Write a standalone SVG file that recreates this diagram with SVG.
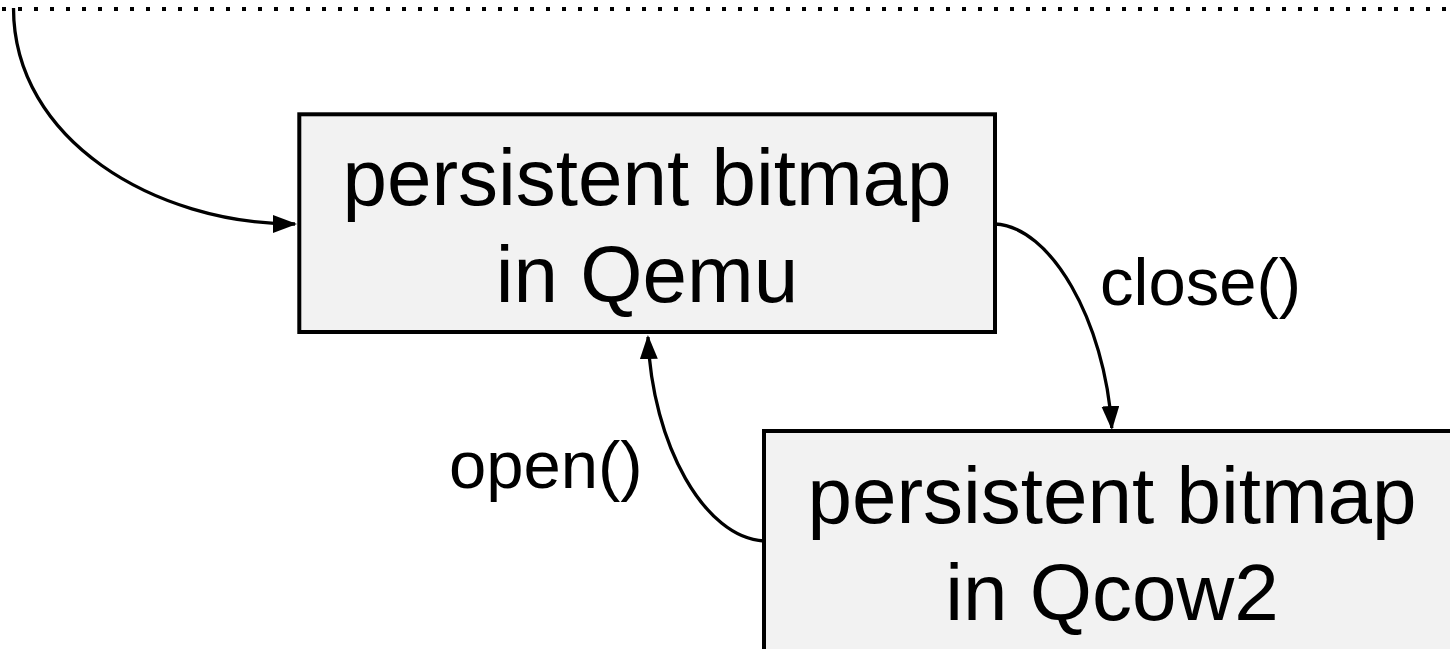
<svg xmlns="http://www.w3.org/2000/svg" width="1450" height="649" viewBox="0 0 1450 649">
  <style>
    .box { fill: #f2f2f2; stroke: #000; stroke-width: 4; }
    .btxt { font-family: "Liberation Sans", Arial, sans-serif; font-size: 80px; fill: #000; text-anchor: middle; }
    .lbl { font-family: "Liberation Sans", Arial, sans-serif; font-size: 67px; fill: #000; }
    .conn { fill: none; stroke: #000; stroke-width: 3.3; }
  </style>
  <defs>
    <marker id="arrow" markerUnits="userSpaceOnUse" markerWidth="24" markerHeight="18" refX="22" refY="9" orient="auto">
      <path d="M0,0 L24,9 L0,18 z" fill="#000"/>
    </marker>
  </defs>
  <rect width="1450" height="649" fill="#fff"/>
  <line x1="2" y1="9" x2="1450" y2="9" stroke="#000" stroke-width="4" stroke-dasharray="4 12"/>
  <g id="node-qemu">
    <rect class="box" x="299.3" y="114.3" width="695.7" height="217.7"/>
    <text class="btxt" x="647" y="205">persistent bitmap</text>
    <text class="btxt" x="647" y="302">in Qemu</text>
  </g>
  <g id="node-qcow2">
    <rect class="box" x="764" y="431" width="696" height="230"/>
    <text class="btxt" x="1112" y="523">persistent bitmap</text>
    <text class="btxt" x="1112" y="620">in Qcow2</text>
  </g>
  <g id="connectors">
    <path class="conn" d="M13.5,8 C13.5,140 155,224 295,224" marker-end="url(#arrow)"/>
    <path class="conn" d="M995,224 C1050,226 1105,320 1111.8,428" marker-end="url(#arrow)"/>
    <path class="conn" d="M764,541 C705,538 652,445 648,337" marker-end="url(#arrow)"/>
    <text class="lbl" x="1100" y="305">close()</text>
    <text class="lbl" x="449" y="488">open()</text>
  </g>
</svg>
